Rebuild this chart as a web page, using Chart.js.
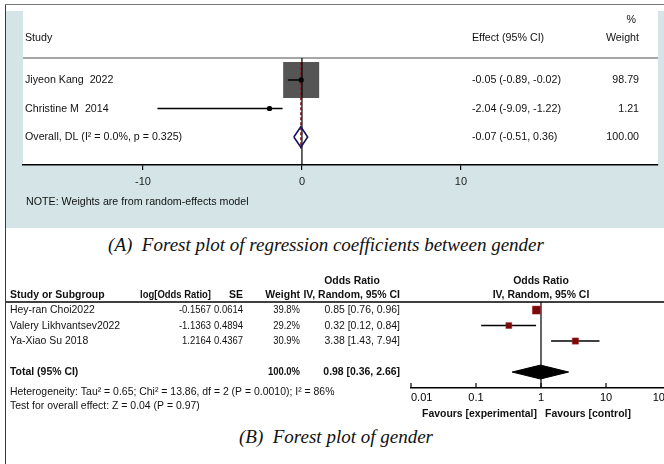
<!DOCTYPE html>
<html>
<head>
<meta charset="utf-8">
<script src="https://cdn.jsdelivr.net/npm/chart.js@4.4.1/dist/chart.umd.min.js"></script>
<style>
  html, body { margin: 0; padding: 0; background: #fff; overflow: hidden; }
  #page { position: relative; width: 664px; height: 464px; overflow: hidden; }
  #topChart { position: absolute; left: 0; top: 0; }
  #botChart { position: absolute; left: 0; top: 260px; }
  .frameL { position: absolute; left: 5px; top: 4px; width: 1px; height: 460px; background: #3a3a3a; }
  .frameT { position: absolute; left: 5px; top: 4px; width: 659px; height: 1px; background: #777; }
  .cap { position: absolute; width: 600px; text-align: center; white-space: pre;
         font-family: 'Liberation Serif', 'Times New Roman', serif; font-style: italic;
         font-size: 19px; line-height: 22px; color: #111; }
</style>
</head>
<body>
<div id="page">
  <canvas id="topChart" width="664" height="230"></canvas>
  <canvas id="botChart" width="700" height="165"></canvas>
  <div class="frameL"></div>
  <div class="frameT"></div>
  <div class="cap" style="left:26px; top:234px;">(A)  Forest plot of regression coefficients between gender</div>
  <div class="cap" style="left:36px; top:426px;">(B)  Forest plot of gender</div>
</div>
<script>
// ---- (A) regression coefficients ----
var studiesA = ["Jiyeon Kang  2022", "Christine M  2014"];
var effectA = [-0.05, -2.04];
var lowA = [-0.89, -9.09];
var highA = [-0.02, -1.22];
var weightA = [98.79, 1.21];
var overallA = [-0.07, -0.51, 0.36];   // effect, low, high
var overallLabelA = "Overall, DL (I\u00b2 = 0.0%, p = 0.325)";
var ticksA = [-10, 0, 10];

// ---- (B) odds ratios ----
var studiesB = ["Hey-ran Choi2022", "Valery Likhvantsev2022", "Ya-Xiao Su 2018"];
var logOrB = [-0.1567, -1.1363, 1.2164];
var seB = [0.0614, 0.4894, 0.4367];
var weightB = [39.8, 29.2, 30.9];
var orB = [0.85, 0.32, 3.38];
var lowB = [0.76, 0.12, 1.43];
var highB = [0.96, 0.84, 7.94];
var totalB = [0.98, 0.36, 2.66];       // or, low, high
var ticksB = [0.01, 0.1, 1, 10, 100];

var SANS = "'Liberation Sans', Arial, sans-serif";

function txt(ctx, s, x, y, align, font, sx, color) {
  ctx.save();
  ctx.font = font;
  ctx.fillStyle = color || "#111";
  ctx.textBaseline = "middle";
  ctx.textAlign = align;
  ctx.translate(x, y);
  ctx.scale(sx, 1);
  ctx.fillText(s, 0, 0);
  ctx.restore();
}

function seg(x1, y1, x2, y2, color, width, dash) {
  return {
    data: [{ x: x1, y: y1 }, { x: x2, y: y2 }],
    showLine: true, borderColor: color, borderWidth: width,
    borderDash: dash || [], pointRadius: 0, order: 1
  };
}

// ================= top chart =================
var yMinA = 0.23, yMaxA = 3.98;
var maxW = Math.max.apply(null, weightA);
var datasetsA = [];

// study dots
datasetsA.push({
  data: effectA.map(function (e, i) { return { x: e, y: i + 1 }; }),
  pointStyle: "circle", pointRadius: 2.6, backgroundColor: "#000", borderWidth: 0, order: 0
});
// CI lines
effectA.forEach(function (e, i) {
  datasetsA.push(seg(lowA[i], i + 1, highA[i], i + 1, "#000", 1.5));
});
// null line and overall line
datasetsA.push(seg(0, yMinA, 0, yMaxA, "#000", 1.2));
datasetsA.push(seg(overallA[0], 0.38, overallA[0], 3.4, "#8b1a1a", 1.4, [3, 2]));
// overall diamond
var rowO = studiesA.length + 1;
datasetsA.push({
  data: [
    { x: overallA[1], y: rowO }, { x: overallA[0], y: rowO - 0.36 },
    { x: overallA[2], y: rowO }, { x: overallA[0], y: rowO + 0.36 },
    { x: overallA[1], y: rowO }
  ],
  showLine: true, borderColor: "#161660", borderWidth: 1.6, pointRadius: 0, order: 0
});
// weight boxes
datasetsA.push({
  data: effectA.map(function (e, i) { return { x: e, y: i + 1 }; }),
  pointStyle: "rect",
  pointRadius: weightA.map(function (w) { return 36 * Math.sqrt(w / maxW) / (2 * Math.SQRT1_2); }),
  backgroundColor: "#555", borderWidth: 0, order: 5
});

var topPlugin = {
  id: "topDecor",
  beforeDraw: function (chart) {
    var ctx = chart.ctx, a = chart.chartArea;
    ctx.save();
    ctx.fillStyle = "#d4e4e7";
    ctx.fillRect(6, 11, 658, 217);
    ctx.fillStyle = "#fff";
    ctx.fillRect(a.left, 0, a.right - a.left, a.bottom);
    ctx.fillRect(6, 0, 658, 11);
    ctx.strokeStyle = "#888";
    ctx.lineWidth = 1.5;
    ctx.beginPath();
    ctx.moveTo(a.left, a.top);
    ctx.lineTo(a.right, a.top);
    ctx.stroke();
    ctx.restore();
  },
  afterDraw: function (chart) {
    var ctx = chart.ctx, ys = chart.scales.y;
    var f = "11px " + SANS, sx = 0.97;
    txt(ctx, "%", 636, 20, "right", f, sx);
    txt(ctx, "Study", 25, 38, "left", f, sx);
    txt(ctx, "Effect (95% CI)", 472, 38, "left", f, sx);
    txt(ctx, "Weight", 639, 38, "right", f, sx);
    studiesA.forEach(function (s, i) {
      var y = ys.getPixelForValue(i + 1);
      txt(ctx, s, 25, y, "left", f, sx);
      txt(ctx, effectA[i].toFixed(2) + " (" + lowA[i].toFixed(2) + ", " + highA[i].toFixed(2) + ")", 472, y, "left", f, sx);
      txt(ctx, weightA[i].toFixed(2), 639, y, "right", f, sx);
    });
    var yo = ys.getPixelForValue(rowO);
    txt(ctx, overallLabelA, 25, yo, "left", f, sx);
    txt(ctx, overallA[0].toFixed(2) + " (" + overallA[1].toFixed(2) + ", " + overallA[2].toFixed(2) + ")", 472, yo, "left", f, sx);
    txt(ctx, "100.00", 639, yo, "right", f, sx);
    txt(ctx, "NOTE: Weights are from random-effects model", 26, 202, "left", f, sx);
  }
};

new Chart(document.getElementById("topChart"), {
  type: "scatter",
  data: { datasets: datasetsA },
  options: {
    responsive: false, animation: false, events: [],
    layout: { autoPadding: false, padding: { left: 23, right: 6, top: 58, bottom: 35 } },
    plugins: { legend: { display: false }, tooltip: { enabled: false } },
    scales: {
      x: {
        type: "linear", min: -17.55, max: 22.4,
        afterBuildTicks: function (s) { s.ticks = ticksA.map(function (v) { return { value: v }; }); },
        afterFit: function (s) { s.height = 30; },
        ticks: { color: "#222", padding: 5, font: { family: SANS, size: 11 }, callback: function (v) { return String(v); } },
        grid: { drawOnChartArea: false, drawTicks: true, tickLength: 5, color: "#000", lineWidth: 1.2 },
        border: { color: "#000", width: 1.5 }
      },
      y: { type: "linear", reverse: true, min: yMinA, max: yMaxA, display: false }
    }
  },
  plugins: [topPlugin]
});

// ================= bottom chart =================
var yMinB = 0.48, yMaxB = 6.03, rowT = 5;
var maxWB = Math.max.apply(null, weightB);
var datasetsB = [];

datasetsB.push({
  data: orB.map(function (v, i) { return { x: v, y: i + 1 }; }),
  pointStyle: "rect",
  pointRadius: weightB.map(function (w) { return 8 * (w / maxWB) / (2 * Math.SQRT1_2); }),
  backgroundColor: "#7a0a0a", borderColor: "#a02020", borderWidth: 0.5, order: 0
});
orB.forEach(function (v, i) {
  datasetsB.push(seg(lowB[i], i + 1, highB[i], i + 1, "#000", 1.6));
});
datasetsB.push(seg(1, yMinB, 1, yMaxB, "#000", 1.2));
datasetsB.push({
  data: [
    { x: totalB[1], y: rowT }, { x: totalB[0], y: rowT - 0.45 },
    { x: totalB[2], y: rowT }, { x: totalB[0], y: rowT + 0.45 },
    { x: totalB[1], y: rowT }
  ],
  showLine: true, fill: "shape", backgroundColor: "#000", borderColor: "#000",
  borderWidth: 1, pointRadius: 0, order: 0
});

var botPlugin = {
  id: "botDecor",
  afterDraw: function (chart) {
    var ctx = chart.ctx, a = chart.chartArea, ys = chart.scales.y, xs = chart.scales.x;
    var f = "11px " + SANS, fb = "bold 11px " + SANS, sx = 0.95, sn = 0.86;
    // header rule
    ctx.save();
    ctx.strokeStyle = "#000";
    ctx.lineWidth = 1.5;
    ctx.beginPath();
    ctx.moveTo(5, a.top);
    ctx.lineTo(chart.width, a.top);
    ctx.stroke();
    // tick marks pointing up into the plot
    ctx.lineWidth = 1.2;
    ticksB.forEach(function (v) {
      var px = xs.getPixelForValue(v);
      ctx.beginPath();
      ctx.moveTo(px, a.bottom - 5);
      ctx.lineTo(px, a.bottom);
      ctx.stroke();
    });
    ctx.restore();

    var x1 = xs.getPixelForValue(1);
    txt(ctx, "Odds Ratio", 352, 21, "center", fb, sx);
    txt(ctx, "Odds Ratio", x1, 21, "center", fb, sx);
    txt(ctx, "Study or Subgroup", 10, 35, "left", fb, sx);
    txt(ctx, "log[Odds Ratio]", 211, 35, "right", fb, sn);
    txt(ctx, "SE", 243, 35, "right", fb, sx);
    txt(ctx, "Weight", 300, 35, "right", fb, sx);
    txt(ctx, "IV, Random, 95% CI", 400, 35, "right", fb, sx);
    txt(ctx, "IV, Random, 95% CI", x1, 35, "center", fb, sx);

    studiesB.forEach(function (s, i) {
      var y = ys.getPixelForValue(i + 1);
      txt(ctx, s, 10, y, "left", f, sx);
      txt(ctx, logOrB[i].toFixed(4), 211, y, "right", f, sn);
      txt(ctx, seB[i].toFixed(4), 243, y, "right", f, sn);
      txt(ctx, weightB[i].toFixed(1) + "%", 300, y, "right", f, sn);
      txt(ctx, orB[i].toFixed(2) + " [" + lowB[i].toFixed(2) + ", " + highB[i].toFixed(2) + "]", 400, y, "right", f, sx);
    });
    var yt = ys.getPixelForValue(rowT);
    txt(ctx, "Total (95% CI)", 10, yt, "left", fb, sx);
    txt(ctx, "100.0%", 300, yt, "right", fb, sn);
    txt(ctx, totalB[0].toFixed(2) + " [" + totalB[1].toFixed(2) + ", " + totalB[2].toFixed(2) + "]", 400, yt, "right", fb, sx);
    txt(ctx, "Heterogeneity: Tau\u00b2 = 0.65; Chi\u00b2 = 13.86, df = 2 (P = 0.0010); I\u00b2 = 86%", 10, 132, "left", f, sx);
    txt(ctx, "Test for overall effect: Z = 0.04 (P = 0.97)", 10, 146, "left", f, sx);
    txt(ctx, "Favours [experimental]", x1 - 4, 154, "right", fb, sx);
    txt(ctx, "Favours [control]", x1 + 4, 154, "left", fb, sx);
  }
};

new Chart(document.getElementById("botChart"), {
  type: "scatter",
  data: { datasets: datasetsB },
  options: {
    responsive: false, animation: false, events: [],
    layout: { autoPadding: false, padding: { left: 411, right: 29, top: 42, bottom: 17 } },
    plugins: { legend: { display: false }, tooltip: { enabled: false } },
    scales: {
      x: {
        type: "logarithmic", min: ticksB[0], max: ticksB[ticksB.length - 1],
        afterBuildTicks: function (s) { s.ticks = ticksB.map(function (v) { return { value: v }; }); },
        afterFit: function (s) { s.height = 20; },
        ticks: { color: "#000", padding: 3, align: "inner", font: { family: SANS, size: 11 }, callback: function (v) { return String(v); } },
        grid: { drawOnChartArea: false, drawTicks: false },
        border: { color: "#000", width: 1.5 }
      },
      y: { type: "linear", reverse: true, min: yMinB, max: yMaxB, display: false }
    }
  },
  plugins: [botPlugin]
});
</script>
</body>
</html>
